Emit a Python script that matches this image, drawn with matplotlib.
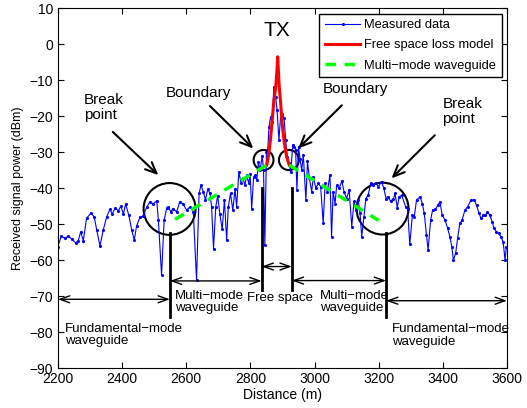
import matplotlib
matplotlib.use("Agg")
import matplotlib.pyplot as plt
from matplotlib.patches import Ellipse

plt.rcParams['font.family'] = ['Liberation Sans', 'DejaVu Sans']

# measured data (distance m, received power dBm)
dist = [2199, 2211, 2222, 2232, 2243, 2255, 2263, 2271, 2279, 2289, 2303, 2313, 2321, 2331,
        2341, 2352, 2362, 2369, 2378, 2388, 2396, 2404, 2411, 2421, 2430, 2438, 2445, 2456,
        2466, 2477, 2487, 2497, 2508, 2513, 2523, 2531, 2539, 2544, 2552, 2558, 2570, 2580,
        2590, 2601, 2612, 2622, 2632, 2640, 2646, 2653, 2660, 2667, 2674, 2679, 2685, 2692,
        2698, 2705, 2712, 2719, 2726, 2731, 2738, 2745, 2752, 2757, 2764, 2771, 2777, 2783,
        2788, 2795, 2799, 2804, 2810, 2814, 2820, 2825, 2830, 2837, 2841, 2845, 2850, 2854,
        2858, 2863, 2868, 2873, 2879, 2883, 2889, 2894, 2899, 2905, 2910, 2915, 2920, 2926,
        2932, 2937, 2941, 2945, 2950, 2955, 2960, 2965, 2973, 2978, 2984, 2991, 2996, 3004,
        3012, 3019, 3027, 3033, 3040, 3048, 3053, 3058, 3064, 3069, 3077, 3085, 3092, 3100,
        3108, 3116, 3123, 3129, 3136, 3142, 3147, 3154, 3160, 3167, 3175, 3183, 3192, 3199,
        3209, 3216, 3223, 3230, 3237, 3246, 3251, 3258, 3264, 3272, 3284, 3290, 3297, 3305,
        3311, 3318, 3329, 3336, 3342, 3349, 3354, 3362, 3368, 3377, 3384, 3391, 3398, 3407,
        3415, 3422, 3428, 3433, 3440, 3446, 3453, 3460, 3469, 3477, 3488, 3498, 3505, 3513,
        3519, 3526, 3533, 3539, 3547, 3554, 3560, 3567, 3575, 3581, 3588, 3594, 3598]
power = [-56.3, -53.3, -54.0, -53.3, -54.2, -55.2, -54.7, -52.1, -54.7, -48.4, -46.9, -48.0, -51.7, -56.1,
         -51.7, -48.0, -45.9, -47.2, -45.6, -46.3, -45.0, -47.2, -44.4, -47.6, -51.7, -54.4, -50.6, -48.0,
         -47.8, -45.2, -43.8, -44.4, -43.5, -48.9, -64.2, -48.9, -45.6, -45.2, -46.6, -45.7, -46.6, -43.8,
         -44.4, -46.1, -45.2, -46.6, -65.6, -41.5, -39.2, -41.0, -43.3, -40.3, -41.5, -45.2, -56.8, -45.2,
         -42.1, -47.3, -51.5, -43.3, -54.4, -45.2, -41.5, -46.1, -40.3, -45.2, -35.5, -38.7, -37.3, -39.2,
         -36.5, -38.7, -36.0, -45.7, -37.0, -36.5, -37.8, -32.8, -35.0, -31.0, -35.0, -55.8, -30.0, -29.4,
         -23.0, -20.2, -21.5, -11.9, -14.6, -18.3, -26.7, -20.2, -19.3, -20.6, -26.7, -31.3, -33.1, -35.4,
         -28.0, -28.5, -29.4, -40.5, -28.5, -32.0, -35.0, -30.8, -43.3, -32.6, -37.3, -41.0, -36.8, -40.0,
         -38.7, -39.6, -49.8, -38.7, -41.0, -36.3, -53.5, -41.0, -44.3, -39.2, -40.1, -38.0, -41.0, -42.9,
         -40.6, -50.7, -43.7, -46.1, -43.3, -47.0, -53.5, -48.0, -42.9, -42.0, -38.7, -39.2, -38.7, -39.6,
         -38.2, -40.1, -42.9, -42.4, -43.7, -42.9, -41.5, -45.4, -42.4, -42.0, -45.2, -45.7, -55.6, -47.6,
         -48.0, -43.3, -42.4, -44.3, -47.0, -53.1, -57.2, -48.9, -46.1, -45.9, -44.8, -43.8, -47.5, -48.9,
         -51.2, -53.5, -56.3, -60.0, -58.1, -54.0, -49.8, -48.9, -46.1, -45.2, -43.3, -43.3, -44.8, -47.0,
         -48.4, -47.6, -47.6, -46.6, -47.6, -49.4, -51.2, -52.1, -52.6, -53.5, -54.9, -60.0, -56.3]

# free space loss model
fs_dist = [2851, 2856, 2862, 2867, 2873, 2879, 2883, 2885, 2887, 2890, 2894, 2899, 2905, 2913, 2921]
fs_power = [-33.6, -31.3, -27.0, -22.0, -16.0, -11.9, -7.0, -3.5, -7.0, -11.9, -16.0, -22.0, -27.0, -31.3, -33.6]

# multi-mode waveguide fits
mm_left_dist = [2565, 2851]
mm_left_power = [-48.7, -33.6]
mm_right_dist = [2921, 3200]
mm_right_power = [-33.6, -49.0]

# region boundaries
break_left, bound_left, bound_right, break_right = 2549, 2835, 2929, 3223

fig = plt.figure(figsize=(5.27, 4.08), dpi=100)
ax = fig.add_axes([0.110, 0.098, 0.852, 0.882])

ax.plot(dist, power, color='#0000ff', lw=0.8, marker='.', ms=2.5, label='Measured data')
ax.plot(fs_dist, fs_power, color='#ff0000', lw=2.2, label='Free space loss model')
ax.plot(mm_left_dist, mm_left_power, color='#00ff00', lw=2.5, ls=(0, (3, 2.5)),
        label='Multi\u2212mode waveguide')
ax.plot(mm_right_dist, mm_right_power, color='#00ff00', lw=2.5, ls=(0, (3, 2.5)))

# circles
for cx, cy, w, h in [(2548, -45.8, 162, 14.4), (3212, -45.7, 162, 14.4),
                     (2841, -32.2, 62, 5.6), (2920, -32.2, 62, 5.6)]:
    ax.add_patch(Ellipse((cx, cy), w, h, fill=False, ec='black', lw=1.5))

# vertical boundary lines
ax.plot([break_left, break_left], [-52.5, -75.7], color='black', lw=2)
ax.plot([break_right, break_right], [-52.6, -75.7], color='black', lw=2)
ax.plot([bound_left, bound_left], [-40, -68.3], color='black', lw=2)
ax.plot([bound_right, bound_right], [-40, -68.3], color='black', lw=2)

# double arrows
arr = dict(arrowstyle='<->,head_length=0.7,head_width=0.25', color='black', lw=1,
           shrinkA=0, shrinkB=0)
for x0, x1, y in [(2200, break_left, -70.9), (break_left, bound_left, -65.8),
                  (bound_left, bound_right, -61.8), (bound_right, break_right, -65.7),
                  (break_right, 3600, -71.3)]:
    ax.annotate('', xy=(x0, y), xytext=(x1, y), arrowprops=arr)

# pointer arrows
parr = dict(arrowstyle='->,head_length=0.8,head_width=0.35', color='black', lw=1.5,
            shrinkA=0, shrinkB=0)
ax.annotate('', xy=(2513, -36.4), xytext=(2371, -24.4), arrowprops=parr)
ax.annotate('', xy=(2809, -29.0), xytext=(2674, -17.2), arrowprops=parr)
ax.annotate('', xy=(2949, -29.0), xytext=(3085, -17.0), arrowprops=parr)
ax.annotate('', xy=(3240, -37.3), xytext=(3375, -25.3), arrowprops=parr)

tk = dict(ha='left', va='top', fontsize=11)
ax.text(2281, -13.6, 'Break\npoint', linespacing=1.1, **tk)
ax.text(2537, -11.6, 'Boundary', **tk)
ax.text(3026, -10.6, 'Boundary', **tk)
ax.text(3399, -14.7, 'Break\npoint', linespacing=1.1, **tk)
ax.text(2881, 3.9, 'TX', ha='center', va='center', fontsize=15)

sk = dict(ha='left', va='top', fontsize=9.5, linespacing=1.05)
ax.text(2222, -77.4, 'Fundamental\u2212mode\nwaveguide', **sk)
ax.text(2565, -68.2, 'Multi\u2212mode\nwaveguide', **sk)
ax.text(2790, -69.0, 'Free space', **sk)
ax.text(3017, -68.2, 'Multi\u2212mode\nwaveguide', **sk)
ax.text(3240, -77.6, 'Fundamental\u2212mode\nwaveguide', **sk)

ax.set_xlim(2200, 3600)
ax.set_ylim(-90, 10)
ax.set_xticks(range(2200, 3601, 200))
ax.set_yticks(range(-90, 11, 10))
ax.tick_params(direction='in', top=True, right=True, length=4, labelsize=10)
ax.tick_params(axis='x', pad=3)
ax.set_xlabel('Distance (m)', fontsize=10, labelpad=1)
ax.set_ylabel('Received signal power (dBm)', fontsize=9, labelpad=4)

leg = ax.legend(loc='upper right', fontsize=9.3, handlelength=2.7, borderaxespad=0.42,
                fancybox=False, edgecolor='black', framealpha=1, borderpad=0.45,
                labelspacing=0.62, handletextpad=0.3)
leg.get_frame().set_linewidth(1)

fig.savefig('out.png', dpi=100)
